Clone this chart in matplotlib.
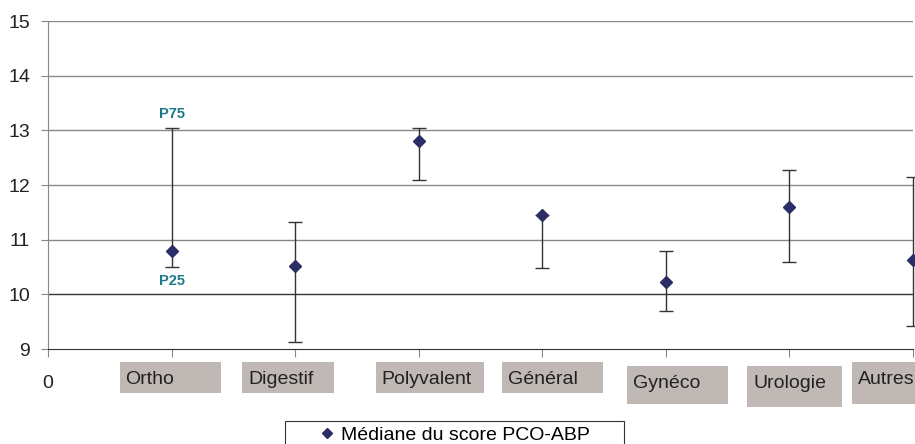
import matplotlib.pyplot as plt
from matplotlib.patches import Rectangle
from matplotlib.lines import Line2D

plt.rcParams['font.family'] = ['Liberation Sans', 'DejaVu Sans']

# Données : médiane et quartiles du score PCO-ABP par spécialité
services = ['Ortho', 'Digestif', 'Polyvalent', 'Général', 'Gynéco', 'Urologie', 'Autres']
mediane = [10.8, 10.52, 12.8, 11.45, 10.23, 11.6, 10.63]
p25 = [10.5, 9.13, 12.1, 10.48, 9.7, 10.6, 9.42]
p75 = [13.05, 11.33, 13.05, 11.45, 10.8, 12.28, 12.15]

# mise en page des étiquettes (en pixels, relatif au tick)
box_gauche = [-52, -53, -43, -40, -39, -42, -61]
box_largeur = [101, 92, 108, 101, 101, 95, 70]
box_haut = [13, 13, 13, 13, 17, 17, 13]
box_hauteur = [31, 31, 31, 31, 38, 41, 42]

x = list(range(1, len(services) + 1))
err_bas = [m - b for m, b in zip(mediane, p25)]
err_haut = [h - m for m, h in zip(mediane, p75)]

W, H = 915, 444
fig = plt.figure(figsize=(W / 100, H / 100), dpi=100)
ax_l, ax_b, ax_w, ax_h = 48, 95, 865, 328
ax = fig.add_axes([ax_l / W, ax_b / H, ax_w / W, ax_h / H])

# grille horizontale
for v in range(10, 16):
    ax.axhline(v, color='#333333' if v == 10 else '#888888', lw=1, zorder=1)

ax.errorbar(x, mediane, yerr=[err_bas, err_haut], fmt='none', ecolor='#333333',
            elinewidth=1, capsize=5, capthick=1, zorder=2, clip_on=False)
ax.plot(x, mediane, linestyle='none', marker='D', ms=6, color='#2b2d66',
        zorder=3, clip_on=False)

ax.set_xlim(0, 7)
ax.set_ylim(9, 15)
ax.set_yticks(range(9, 16))
ax.tick_params(axis='y', labelsize=14, length=5, color='#888888', pad=8, labelcolor='#222222')
ax.set_xticks([0] + x)
ax.set_xticklabels(['0'] + [''] * len(services))
ax.tick_params(axis='x', labelsize=14, length=6, color='#888888', pad=13, labelcolor='#222222')

for s in ['top', 'right']:
    ax.spines[s].set_visible(False)
ax.spines['left'].set_color('#888888')
ax.spines['bottom'].set_color('#333333')

# étiquettes de catégories sur fond gris (coordonnées en pixels de la figure)
dx = ax_w / 7
for xi, nom, g, lw_, t, h in zip(x, services, box_gauche, box_largeur, box_haut, box_hauteur):
    x0 = ax_l + xi * dx + g
    y_top = ax_b - t  # en pixels depuis le bas
    fig.patches.append(Rectangle((x0 / W, (y_top - h) / H), lw_ / W, h / H,
                                 transform=fig.transFigure, facecolor='#c0b8b5',
                                 edgecolor='none'))
    fig.text((x0 + 6) / W, (y_top - 17) / H, nom, ha='left', va='center',
             fontsize=14, color='#222222')

# annotations P75 / P25 pour Ortho
ax.text(1, 13.05 + 0.12, 'P75', ha='center', va='bottom', fontsize=10.5,
        fontweight='bold', color='#1a7a85')
ax.text(1, 10.5 - 0.12, 'P25', ha='center', va='top', fontsize=10.5,
        fontweight='bold', color='#1a7a85')

# légende encadrée
fig.patches.append(Rectangle((285 / W, -10 / H), 339 / W, 33 / H,
                             transform=fig.transFigure, facecolor='white',
                             edgecolor='#333333', lw=0.8))
poignee = Line2D([], [], linestyle='none', marker='D', ms=5, color='#2b2d66')
fig.legend([poignee], ['Médiane du score PCO-ABP'], loc='center',
           bbox_to_anchor=(455 / W, 9 / H), fontsize=14, frameon=False,
           handlelength=0.7, handletextpad=0.4, borderpad=0, borderaxespad=0)

fig.savefig('out.png', dpi=100)
